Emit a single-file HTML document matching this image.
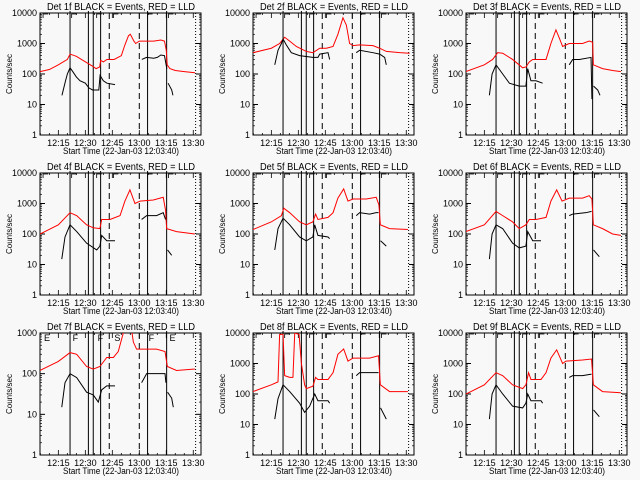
<!DOCTYPE html>
<html><head><meta charset="utf-8"><style>
html,body{margin:0;padding:0;background:#f8f8f8}
svg{display:block}
text{font-family:"Liberation Sans",sans-serif;fill:#000}
</style></head><body>
<svg id="c" width="640" height="480" viewBox="0 0 640 480"></svg>
<script>
// Times in minutes after 12:00; values in counts/sec
const detNames = ["1f","2f","3f","4f","5f","6f","7f","8f","9f"];
const xTickMinutes = [15,30,45,60,75,90];
const xTickLabels = ["12:15","12:30","12:45","13:00","13:15","13:30"];
const solidMarkers = [21.5,31.7,34.4,38.5,64.6,75.2];
const dashedMarkers = [43.3,60.0];
const dottedMarkers = [91.3];

const red1T=[4.8,10,15,20,21.5,25,30,34,36,38,38.5,40,42,46,50,52,54,55,57,58,60,64,68,72,74,75,75.5,77,80,85,91];
const red1V=[120,140,200,300,450,380,250,180,150,170,280,250,300,300,400,900,1800,2000,1200,1000,1200,1200,1200,1300,1200,600,200,150,130,120,110];
const blk1T=[[17,19,20,21.5,23,25,27,30,32,34,36,37.5,38.2,40,42,46.5],[61.4,64,68,70,72,74,75.3],[76,78,78.7]];
const blk1V=[[20,60,100,160,120,80,60,50,35,30,30,30,90,60,50,45],[300,350,330,350,420,400,150],[50,30,20]];

const red2T=[4.8,15,19.6,22.4,25.2,28.9,34.4,38.1,41.9,45.6,49.3,52,54.8,56.7,58.5,60.4,64.1,71.5,75.2,78.9,86.3,91.9];
const red2V=[500,700,1000,1600,1200,800,550,500,700,700,800,2000,7000,4000,1000,850,900,850,700,550,500,480];
const blk2T=[[16.9,18.7,20.6,21.5,23.3,26.1,30.7,38.1,40.9,41.9,46.5,47.4],[62.2,64.1,71.5,75.2,78,78.9]];
const blk2V=[[200,600,1000,1400,900,500,400,350,350,450,500,300],[500,600,500,450,350,200]];

const red3T=[4.8,15,19.6,22.4,25.2,30.7,36.3,38.1,40,41.9,49.3,52,54.8,56.7,58.5,62.2,69.6,73.3,75.2,75.6,80.7,86.3,90.9];
const red3V=[120,200,300,500,480,300,160,170,250,300,300,1000,2800,1500,800,1000,1000,1200,1100,200,150,130,120];
const blk3T=[[17.8,19.3,21.5,25.2,28.9,34.4,38.1,39.1,40.9,43.7,47.4],[62.2,64.1,67.8,74.3,74.8],[75.7,78,79.3]];
const blk3V=[[20,100,200,100,50,40,40,150,60,60,50],[200,300,300,350,15],[40,30,20]];

const red4T=[4.8,15,21.5,25.2,30.7,34.4,38.1,39.1,43.7,49.3,52,54.8,57.6,60.4,67.8,73.3,74.6,75.2,80.7,90.9];
const red4V=[100,200,500,400,200,160,150,300,300,400,1200,2800,1000,1200,1300,1600,600,150,120,100];
const blk4T=[[16.9,18.7,21.5,25.2,30.7,36.3,38.1,39.1,41.9,46.5],[61.3,64.1,69.6,73.3,74.6],[75.7,78]];
const blk4V=[[15,80,200,120,50,30,40,90,60,60],[300,400,400,500,300],[30,20]];

const red5T=[4.8,15,20.6,21.9,25.2,30.7,34.4,38.1,39.6,40.9,46.5,49.3,52,55.2,57.6,60.4,67.8,73.3,74.8,75.6,80.7,90.9];
const red5V=[140,250,400,700,500,250,200,250,450,300,350,500,1500,3000,1200,1400,1400,1600,900,200,150,140];
const blk5T=[[16.9,18.7,21.5,25.2,30.7,34.4,38.1,39.1,40.9,46.5,47.4],[62.2,64.1,69.6,73.3,74.6],[75.7,78.9]];
const blk5V=[[30,150,330,200,80,60,80,200,90,80,70],[400,500,450,500,500],[60,40]];

const red6T=[4.8,15,21.5,25.2,30.7,34.4,38.1,40,43.7,49.3,52,55.2,58.2,62.2,69.6,73.3,74.8,75.6,80.7,86.3,90.9];
const red6V=[120,200,550,400,250,150,200,300,300,350,1200,2800,1200,1500,1500,1800,1400,200,150,100,90];
const blk6T=[[17.8,19.3,21.5,25.2,30.7,34.4,38.1,39.1,41.9,46.5],[62.2,64.1,71.5,74.6],[75.7,78.9]];
const blk6V=[[15,100,200,150,50,35,40,120,60,60],[400,450,500,550],[30,18]];

const red7T=[4.8,15,21.5,25.2,30.7,34.4,38.1,41.9,45.6,48.3,51.1,53.9,55.7,56.7,58.5,62.2,69.6,74.3,74.8,75.6,80.7,90.9];
const red7V=[120,200,330,300,150,130,150,250,250,350,1000,1200,1200,600,400,400,400,350,250,150,120,130];
const blk7T=[[16.9,18.7,21.5,25.2,30.7,34.4,37.2,39.1,41.9,46.5],[61.3,64.1,69.6,74.3,74.8],[75.7,78,78.9]];
const blk7V=[[15,60,100,80,35,30,20,40,50,50],[60,100,100,100,60],[35,25,15]];

const red8T=[4.8,15,18.7,19.6,21.5,22.4,25.2,27,28,30.4,31.7,33.5,34.4,38.1,39.6,40.9,46.5,49.3,52,55.2,57.6,60.4,69.6,74.6,75.6,80.7,90.9];
const red8V=[120,200,250,9000,9000,400,350,350,10000,9000,1000,200,150,180,350,300,300,500,2000,3000,1200,1500,1500,1800,200,120,120];
const blk8T=[[16.9,18.7,21.5,25.2,30.7,33.5,36.3,39.1,40.9,46.5,47.4],[62.2,64.1,71.5,74.6],[75.7,78.9]];
const blk8V=[[15,70,200,120,50,25,40,100,60,60,50],[400,500,500,500],[35,15]];

const red9T=[4.8,15,21.5,25.2,30.7,36.3,38.1,39.6,40.9,46.5,49.3,52,55.2,58.5,60.4,69.6,74.6,75.6,80.7,90.9];
const red9V=[100,200,500,400,200,150,200,500,300,300,500,1500,2800,1000,1200,1300,1400,200,120,110];
const blk9T=[[17.8,19.3,21.5,25.2,30.7,36.3,38.1,39.1,40.9,46.5,47.4],[62.2,64.1,69.6,74.6],[75.7,78.9]];
const blk9V=[[15,100,200,100,40,35,50,100,60,60,50],[350,400,400,450],[30,18]];

const redT=[red1T,red2T,red3T,red4T,red5T,red6T,red7T,red8T,red9T];
const redV=[red1V,red2V,red3V,red4V,red5V,red6V,red7V,red8V,red9V];
const blkT=[blk1T,blk2T,blk3T,blk4T,blk5T,blk6T,blk7T,blk8T,blk9T];
const blkV=[blk1V,blk2V,blk3V,blk4V,blk5V,blk6V,blk7V,blk8V,blk9V];
const yDecades=[4,4,4,4,4,4,3,4,4];

const NS="http://www.w3.org/2000/svg";
const svg=document.getElementById('c');
function mk(tag,attrs,parent){const e=document.createElementNS(NS,tag);for(const k in attrs)e.setAttribute(k,attrs[k]);(parent||svg).appendChild(e);return e;}
const L=40,R=201,T=13,B=135,TMIN=4.8,TMAX=94.3;

for(let p=0;p<9;p++){
  const ox=(p%3)*213, oy=Math.floor(p/3)*160;
  const g=mk('g',{transform:`translate(${ox},${oy})`});
  
  
  const nd=yDecades[p];
  const xs=t=>L+(t-TMIN)/(TMAX-TMIN)*(R-L);
  const ys=v=>B-Math.log10(v)/nd*(B-T);
  const clip=mk('clipPath',{id:'cl'+p},g);
  mk('rect',{x:L,y:T,width:R-L,height:B-T},clip);

  const title=mk('text',{x:121,y:10,'font-size':10,'text-anchor':'middle',textLength:148,lengthAdjust:'spacingAndGlyphs'},g);
  title.textContent=`Det ${detNames[p]} BLACK = Events, RED = LLD`;
  
  

  const frame=mk('rect',{x:L,y:T,width:R-L,height:B-T,fill:'none',stroke:'#000','stroke-width':1},g);
  
  

  // y ticks
  for(let d=0;d<=nd;d++){
    const v=Math.pow(10,d), y=ys(v);
    mk('line',{x1:L,x2:L+5,y1:y,y2:y,stroke:'#000'},g);
    mk('line',{x1:R-5,x2:R,y1:y,y2:y,stroke:'#000'},g);
    const lt=mk('text',{x:37,y:y+3,'font-size':9,'text-anchor':'end'},g);
    lt.textContent=String(v);
    
    
    if(d<nd){for(let m=2;m<10;m++){const ym=ys(m*v);
      mk('line',{x1:L,x2:L+2,y1:ym,y2:ym,stroke:'#000','stroke-width':0.7},g);
      mk('line',{x1:R-2,x2:R,y1:ym,y2:ym,stroke:'#000','stroke-width':0.7},g);}}
  }
  const yt=mk('text',{x:0,y:0,'font-size':8,'text-anchor':'middle',transform:`translate(12,74) rotate(-90)`},g);
  yt.textContent='Counts/sec';
  
  

  // x ticks
  for(let t=5;t<=TMAX;t+=5){const x=xs(t);const maj=xTickMinutes.includes(t);
    mk('line',{x1:x,x2:x,y1:B,y2:B-(maj?5:2),stroke:'#000','stroke-width':0.8},g);
    mk('line',{x1:x,x2:x,y1:T,y2:T+(maj?5:2),stroke:'#000','stroke-width':0.8},g);}
  xTickMinutes.forEach((t,i)=>{
    const tx=mk('text',{x:xs(t),y:146,'font-size':9,'text-anchor':'middle'},g);
    tx.textContent=xTickLabels[i];
    
    
  });
  const xt=mk('text',{x:121,y:154,'font-size':9,'text-anchor':'middle',textLength:116,lengthAdjust:'spacingAndGlyphs'},g);
  xt.textContent='Start Time (22-Jan-03 12:03:40)';
  
  

  // markers
  solidMarkers.forEach(t=>{const l=mk('line',{x1:xs(t),x2:xs(t),y1:T-2,y2:B,stroke:'#000','stroke-width':1},g);
    });
  dashedMarkers.forEach(t=>{const l=mk('line',{x1:xs(t),x2:xs(t),y1:T,y2:B,stroke:'#000','stroke-width':1,'stroke-dasharray':'6,4'},g);
    });
  dottedMarkers.forEach(t=>{const l=mk('line',{x1:xs(t),x2:xs(t),y1:T,y2:B,stroke:'#000','stroke-width':1,'stroke-dasharray':'1,2'},g);
    });
  // top flags
  const flagT=[6.5,22.4,36.3,45.6,64.6,76.2], flagL=['E','F','F','S','F','E'];
  flagT.forEach((t,i)=>{
    if(p===6){const f=mk('text',{x:xs(t)+1,y:T+8,'font-size':9},g);f.textContent=flagL[i];
      }
    else{mk('path',{d:`M${xs(t)} ${T+5}V${T+1}H${xs(t)+5}`,fill:'none',stroke:'#000','stroke-width':0.8},g);}
  });

  // series
  const cg=mk('g',{'clip-path':`url(#cl${p})`},g);
  const rp=mk('polyline',{points:redT[p].map((t,i)=>xs(t)+','+ys(redV[p][i])).join(' '),fill:'none',stroke:'#ff0000','stroke-width':1},cg);
  
  
  blkT[p].forEach((seg,s)=>{
    const bp=mk('polyline',{points:seg.map((t,i)=>xs(t)+','+ys(blkV[p][s][i])).join(' '),fill:'none',stroke:'#000','stroke-width':1},cg);
    
    
  });
}
</script>
</body></html>
